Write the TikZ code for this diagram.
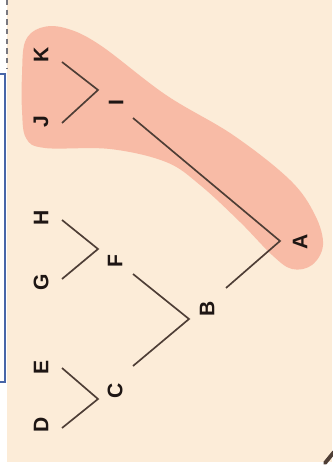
\documentclass[tikz,border=0pt]{standalone}
\usepackage{fontspec}
\setmainfont{Liberation Sans}
\definecolor{paper}{RGB}{252,236,216}
\definecolor{clade}{RGB}{248,187,166}
\definecolor{branchcol}{RGB}{78,62,54}
\definecolor{labelcol}{RGB}{30,22,20}
\definecolor{framecol}{RGB}{72,102,168}
\definecolor{guidecol}{RGB}{120,120,128}
\begin{document}
\begin{tikzpicture}[x=0.02cm,y=-0.02cm,
  lbl/.style={font=\bfseries\fontsize{12}{12}\selectfont, rotate=90, inner sep=0pt, text=labelcol},
  branch/.style={draw=branchcol, line width=0.95pt}]
\useasboundingbox (0,0) rectangle (332,476);
% page background
\fill[white] (0,0) rectangle (332,476);
\fill[paper] (7,0) rectangle (332,462);
% frame edge and guide line on the left
\draw[framecol, line width=1.6pt] (-10,74) rectangle (5,382);
\draw[guidecol, line width=0.6pt, dash pattern=on 3pt off 2.5pt] (7,0) -- (7,68);
% highlighted clade (I, J, K)
\fill[clade] plot[smooth cycle, tension=0.6] coordinates {
  (22,75) (25,42) (40,28) (65,28) (100,45) (166,95) (233,135) (290,180)
  (315,215) (323,245) (312,265) (292,269) (272,255) (240,222) (200,185)
  (166,162) (110,149) (45,148) (26,138) (22,110)};
% labels
\node[lbl] (K) at (41,55) {K};
\node[lbl] (J) at (41,122) {J};
\node[lbl] (I) at (116,103) {I};
\node[lbl] (H) at (41,218) {H};
\node[lbl] (G) at (41,282) {G};
\node[lbl] (F) at (115,261) {F};
\node[lbl] (E) at (41,367) {E};
\node[lbl] (D) at (41,425) {D};
\node[lbl] (C) at (115,391) {C};
\node[lbl] (B) at (207,309) {B};
\node[lbl] (A) at (300,242) {A};
% branch points
\coordinate (vI) at (98,90);
\coordinate (vF) at (98,249);
\coordinate (vC) at (98,399);
\coordinate (vB) at (189,319);
\coordinate (vA) at (280,241);
% branch ends next to the labels
\coordinate (eK) at (62,62);
\coordinate (eJ) at (62,123);
\coordinate (eI) at (133,118);
\coordinate (eH) at (62,220);
\coordinate (eG) at (62,279);
\coordinate (eF) at (133,274);
\coordinate (eE) at (62,368);
\coordinate (eD) at (62,428);
\coordinate (eC) at (133,366);
\coordinate (eB) at (226,288);
% branches
\draw[branch] (eK) -- (vI) -- (eJ);
\draw[branch] (eH) -- (vF) -- (eG);
\draw[branch] (eE) -- (vC) -- (eD);
\draw[branch] (eF) -- (vB) -- (eC);
\draw[branch] (eI) -- (vA) -- (eB);
% short stroke at the lower right edge
\draw[branchcol, line width=2.2pt, line cap=round] (325,463) -- (334,452);
\end{tikzpicture}
\end{document}
